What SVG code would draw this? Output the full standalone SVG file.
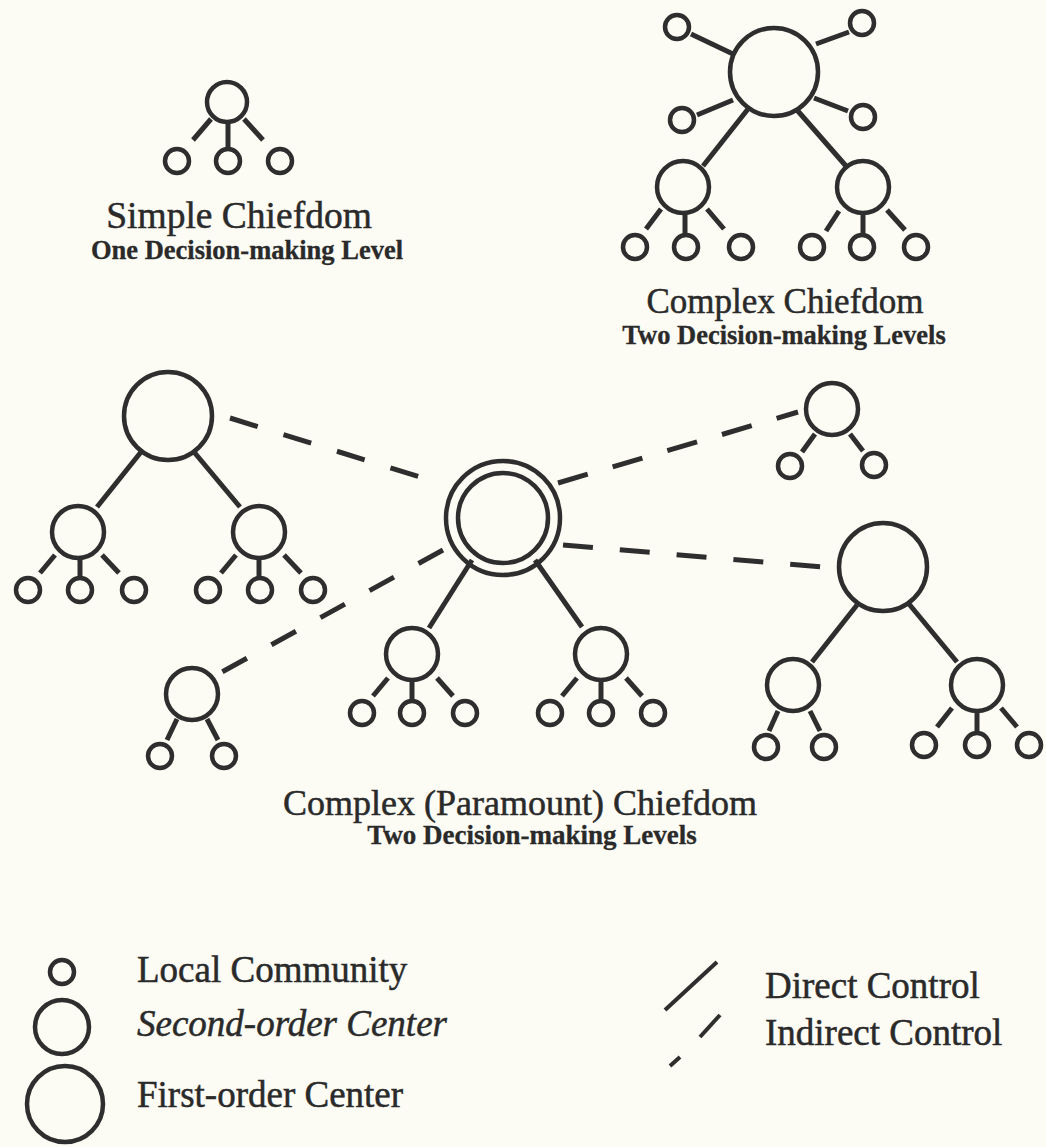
<svg xmlns="http://www.w3.org/2000/svg" width="1046" height="1147" viewBox="0 0 1046 1147">
  <style>
    .bg { fill: #fcfbf4; }
    .c { fill: none; stroke: #2e2e2e; stroke-width: 4.5; }
    .l { stroke: #2e2e2e; stroke-width: 5; stroke-linecap: butt; fill: none; }
    .d { stroke: #2e2e2e; stroke-width: 5; fill: none; stroke-dasharray: 29 27; }
    text { font-family: "Liberation Serif", "Times New Roman", serif; fill: #2a2a2a; stroke: #2a2a2a; stroke-width: 0.5; }
    .title { font-size: 36px; text-anchor: middle; }
    .sub { font-size: 26.5px; font-weight: bold; text-anchor: middle; stroke-width: 0.3; }
    .leg { font-size: 37px; }
  </style>
  <rect class="bg" x="0" y="0" width="1046" height="1147"/>

  <!-- Simple chiefdom -->
  <g id="simple-chiefdom">
    <circle class="c" cx="227" cy="102" r="20"/>
    <circle class="c" cx="177" cy="161" r="12"/>
    <circle class="c" cx="228" cy="161" r="12"/>
    <circle class="c" cx="280" cy="161" r="12"/>
    <line class="l" x1="211" y1="119" x2="193" y2="140"/>
    <line class="l" x1="228" y1="122" x2="228" y2="148"/>
    <line class="l" x1="244" y1="119" x2="263" y2="140"/>
    <text class="title" x="239" y="228" style="font-size:37.5px">Simple Chiefdom</text>
    <text class="sub" x="247" y="259">One Decision-making Level</text>
  </g>

  <!-- Complex chiefdom -->
  <g id="complex-chiefdom">
    <circle class="c" cx="774" cy="72" r="44"/>
    <circle class="c" cx="677" cy="27" r="12"/>
    <circle class="c" cx="862" cy="23" r="12"/>
    <circle class="c" cx="682" cy="120" r="12"/>
    <circle class="c" cx="863" cy="117" r="12"/>
    <line class="l" x1="691" y1="34" x2="733" y2="54"/>
    <line class="l" x1="816" y1="44" x2="849" y2="32"/>
    <line class="l" x1="697" y1="115" x2="733" y2="100"/>
    <line class="l" x1="814" y1="98" x2="848" y2="111"/>
    <circle class="c" cx="683" cy="187" r="26"/>
    <circle class="c" cx="863" cy="187" r="26"/>
    <line class="l" x1="748" y1="109" x2="703" y2="166"/>
    <line class="l" x1="797" y1="110" x2="846" y2="166"/>
    <circle class="c" cx="635" cy="247" r="12"/>
    <circle class="c" cx="686" cy="247" r="12"/>
    <circle class="c" cx="741" cy="247" r="12"/>
    <circle class="c" cx="812" cy="247" r="12"/>
    <circle class="c" cx="862" cy="247" r="12"/>
    <circle class="c" cx="916" cy="247" r="12"/>
    <line class="l" x1="661" y1="209" x2="646" y2="229"/>
    <line class="l" x1="685" y1="213" x2="685" y2="235"/>
    <line class="l" x1="707" y1="209" x2="724" y2="229"/>
    <line class="l" x1="839" y1="211" x2="826" y2="231"/>
    <line class="l" x1="863" y1="213" x2="863" y2="235"/>
    <line class="l" x1="887" y1="210" x2="905" y2="230"/>
    <text class="title" x="785" y="313" style="font-size:35px">Complex Chiefdom</text>
    <text class="sub" x="784" y="344">Two Decision-making Levels</text>
  </g>

  <!-- Complex (paramount) chiefdom: paramount center -->
  <g id="paramount-center">
    <circle class="c" cx="503" cy="518" r="57"/>
    <circle class="c" cx="503" cy="518" r="45"/>
    <line class="l" x1="472" y1="560" x2="429" y2="628"/>
    <line class="l" x1="535" y1="560" x2="582" y2="627"/>
    <circle class="c" cx="412" cy="654" r="26"/>
    <circle class="c" cx="601" cy="654" r="26"/>
    <circle class="c" cx="362" cy="713" r="12"/>
    <circle class="c" cx="412" cy="713" r="12"/>
    <circle class="c" cx="465" cy="713" r="12"/>
    <circle class="c" cx="550" cy="713" r="12"/>
    <circle class="c" cx="601" cy="713" r="12"/>
    <circle class="c" cx="653" cy="713" r="12"/>
    <line class="l" x1="388" y1="678" x2="373" y2="696"/>
    <line class="l" x1="412" y1="681" x2="412" y2="700"/>
    <line class="l" x1="437" y1="678" x2="453" y2="696"/>
    <line class="l" x1="577" y1="678" x2="562" y2="696"/>
    <line class="l" x1="601" y1="681" x2="601" y2="700"/>
    <line class="l" x1="626" y1="678" x2="642" y2="696"/>
  </g>

  <!-- Left complex chiefdom under indirect control -->
  <g id="left-chiefdom">
    <circle class="c" cx="168" cy="416" r="44"/>
    <line class="l" x1="141" y1="452" x2="97" y2="507"/>
    <line class="l" x1="194" y1="452" x2="240" y2="507"/>
    <circle class="c" cx="78" cy="532" r="26"/>
    <circle class="c" cx="259" cy="532" r="26"/>
    <circle class="c" cx="28" cy="590" r="12"/>
    <circle class="c" cx="80" cy="590" r="12"/>
    <circle class="c" cx="134" cy="590" r="12"/>
    <circle class="c" cx="208" cy="590" r="12"/>
    <circle class="c" cx="260" cy="590" r="12"/>
    <circle class="c" cx="313" cy="590" r="12"/>
    <line class="l" x1="55" y1="555" x2="40" y2="573"/>
    <line class="l" x1="80" y1="558" x2="80" y2="577"/>
    <line class="l" x1="102" y1="555" x2="119" y2="573"/>
    <line class="l" x1="236" y1="555" x2="221" y2="573"/>
    <line class="l" x1="259" y1="558" x2="259" y2="577"/>
    <line class="l" x1="284" y1="555" x2="301" y2="573"/>
  </g>

  <!-- Upper right simple chiefdom -->
  <g id="upper-right-chiefdom">
    <circle class="c" cx="832" cy="409" r="26"/>
    <circle class="c" cx="790" cy="466" r="12"/>
    <circle class="c" cx="874" cy="465" r="12"/>
    <line class="l" x1="815" y1="434" x2="802" y2="452"/>
    <line class="l" x1="850" y1="434" x2="863" y2="451"/>
  </g>

  <!-- Right complex chiefdom -->
  <g id="right-chiefdom">
    <circle class="c" cx="883" cy="567" r="44"/>
    <line class="l" x1="857" y1="605" x2="812" y2="662"/>
    <line class="l" x1="909" y1="604" x2="957" y2="662"/>
    <circle class="c" cx="793" cy="685" r="26"/>
    <circle class="c" cx="977" cy="685" r="26"/>
    <circle class="c" cx="766" cy="747" r="12"/>
    <circle class="c" cx="824" cy="747" r="12"/>
    <circle class="c" cx="924" cy="745" r="12"/>
    <circle class="c" cx="977" cy="745" r="12"/>
    <circle class="c" cx="1029" cy="745" r="12"/>
    <line class="l" x1="778" y1="711" x2="769" y2="731"/>
    <line class="l" x1="810" y1="711" x2="820" y2="731"/>
    <line class="l" x1="952" y1="708" x2="937" y2="727"/>
    <line class="l" x1="977" y1="711" x2="977" y2="731"/>
    <line class="l" x1="1001" y1="708" x2="1017" y2="727"/>
  </g>

  <!-- Lower left simple chiefdom -->
  <g id="lower-left-chiefdom">
    <circle class="c" cx="192" cy="694" r="26"/>
    <circle class="c" cx="160" cy="756" r="12"/>
    <circle class="c" cx="224" cy="756" r="12"/>
    <line class="l" x1="177" y1="719" x2="167" y2="740"/>
    <line class="l" x1="207" y1="719" x2="218" y2="740"/>
  </g>

  <!-- Indirect control links from the paramount center -->
  <g id="connectors">
    <line class="d" x1="230" y1="418" x2="423" y2="478"/>
    <line class="d" x1="558" y1="483" x2="798" y2="412" style="stroke-dasharray: 31 26"/>
    <line class="d" x1="563" y1="545" x2="822" y2="567" style="stroke-dasharray: 30 27"/>
    <line class="d" x1="443" y1="550" x2="222" y2="672" style="stroke-dasharray: 28 28"/>
  </g>

  <g id="paramount-label">
    <text class="title" x="520" y="815">Complex (Paramount) Chiefdom</text>
    <text class="sub" x="532" y="844" style="font-size:27px">Two Decision-making Levels</text>
  </g>

  <!-- Legend -->
  <g id="legend-local">
    <circle class="c" cx="62" cy="972" r="12"/>
    <text class="leg" x="137" y="982">Local Community</text>
  </g>
  <g id="legend-second">
    <circle class="c" cx="62" cy="1027" r="27"/>
    <text class="leg" x="137" y="1036" font-style="italic">Second-order Center</text>
  </g>
  <g id="legend-first">
    <circle class="c" cx="65" cy="1104" r="38"/>
    <text class="leg" x="137" y="1107">First-order Center</text>
  </g>
  <g id="legend-direct">
    <line class="l" x1="665" y1="1010" x2="717" y2="962" style="stroke-width:4"/>
    <text class="leg" x="765" y="998">Direct Control</text>
  </g>
  <g id="legend-indirect">
    <line class="l" x1="670" y1="1066" x2="680" y2="1057" style="stroke-width:4"/>
    <line class="l" x1="700" y1="1037" x2="720" y2="1015" style="stroke-width:4"/>
    <text class="leg" x="765" y="1045">Indirect Control</text>
  </g>
</svg>
